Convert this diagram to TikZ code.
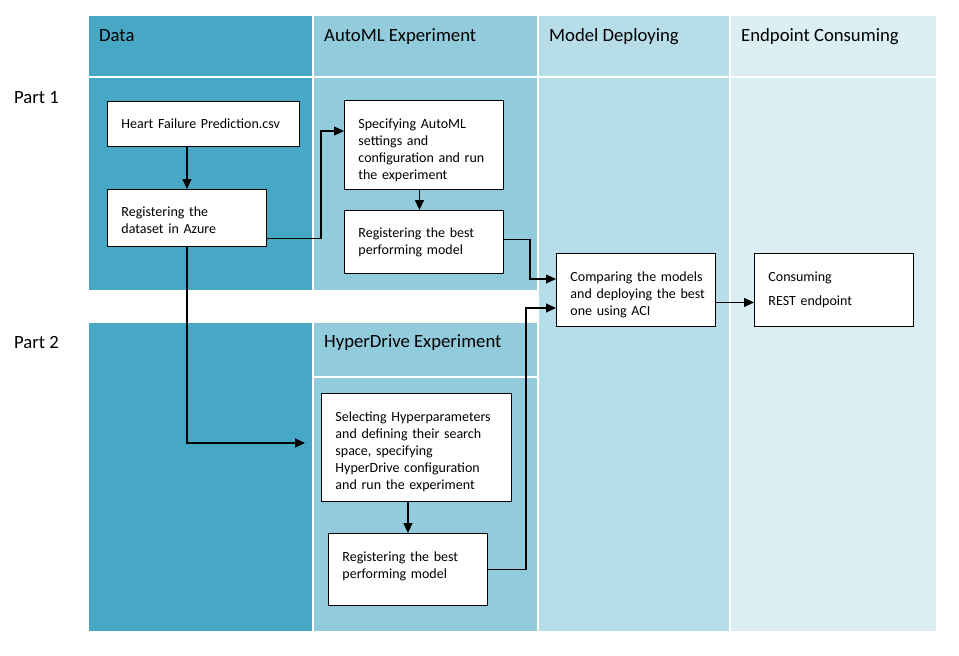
\documentclass[tikz,border=0pt]{standalone}
\usepackage{fontspec}
\setmainfont{Carlito}
\usetikzlibrary{arrows.meta}
\definecolor{cData}{HTML}{46A8C5}
\definecolor{cAuto}{HTML}{92CBDB}
\definecolor{cDep}{HTML}{B7DDE8}
\definecolor{cEnd}{HTML}{DAEEF3}
\newcommand{\boxline}[1]{\mbox{#1}}
\newcommand{\topstrut}[1]{\rule{0pt}{#1}}
\begin{document}
\begin{tikzpicture}[x=1pt,y=-1pt,
  box/.style={draw=black, line width=0.9pt, fill=white, rectangle, inner xsep=14pt, inner ysep=0pt,
    align=left, font=\fontsize{14}{17}\selectfont, anchor=north west},
  head/.style={anchor=base west, inner sep=0pt, font=\fontsize{18.7}{22}\selectfont},
  conn/.style={line width=1.2pt, -{Triangle[length=10pt,width=9pt]}},
  sep/.style={white, line width=1.2pt}]
\useasboundingbox (0,0) rectangle (959,656);
% lanes
\fill[cData] (89,16) rectangle (313,290);
\fill[cAuto] (313,16) rectangle (538,290);
\fill[cDep] (538,16) rectangle (730,631);
\fill[cEnd] (730,16) rectangle (936,631);
\fill[cData] (89,323) rectangle (313,631);
\fill[cAuto] (313,323) rectangle (538,631);
\draw[sep] (89,77) -- (936,77);
\draw[sep] (313,377) -- (538,377);
\draw[sep] (313,16) -- (313,290);
\draw[sep] (313,323) -- (313,631);
\draw[sep] (538,16) -- (538,631);
\draw[sep] (730,16) -- (730,631);
% headers
\node[head] (hData) at (99,41) {Data};
\node[head] (hAuto) at (324,41) {AutoML Experiment};
\node[head] (hDep) at (549,41) {Model Deploying};
\node[head] (hEnd) at (741,41) {Endpoint Consuming};
\node[head] (hHyp) at (324,347) {HyperDrive Experiment};
\node[head] (p1) at (14,103.5) {Part 1};
\node[head] (p2) at (14,348) {Part 2};
% boxes
\node[box, text width=164pt, minimum height=45pt] (csv) at (107,101) {\boxline{Heart Failure Prediction.csv}};
\node[box, text width=131pt, minimum height=57pt] (reg) at (107,189) {\topstrut{14pt}\boxline{Registering the}\\\boxline{dataset in Azure}};
\node[box, text width=131pt, minimum height=89pt] (spec) at (344,100) {\topstrut{20pt}\boxline{Specifying AutoML}\\\boxline{settings and}\\\boxline{configuration and run}\\\boxline{the experiment}};
\node[box, text width=131pt, minimum height=63pt] (best1) at (344,210) {\boxline{Registering the best}\\\boxline{performing model}};
\node[box, text width=131pt, minimum height=73pt] (cmp) at (556,253) {\topstrut{20pt}\boxline{Comparing the models}\\\boxline{and deploying the best}\\\boxline{one using ACI}};
\node[box, text width=131pt, minimum height=73pt] (cons) at (754,253) {\boxline{Consuming}\\[7pt]\boxline{REST endpoint}};
\node[box, text width=162pt, minimum height=108pt] (sel) at (321,393) {\topstrut{19pt}\boxline{Selecting Hyperparameters}\\\boxline{and defining their search}\\\boxline{space, specifying}\\\boxline{HyperDrive configuration}\\\boxline{and run the experiment}};
\node[box, text width=131pt, minimum height=72pt] (best2) at (328,533) {\boxline{Registering the best}\\\boxline{performing model}\\[-9pt]\mbox{}};
\coordinate (hpin) at (305,443);
% connectors
\draw[conn] (reg.north |- csv.south) -- (reg.north);
\draw[conn] ([yshift=-20.5pt]reg.east) -| (321,131) -- (spec.west |- 0,131);
\draw[conn] ([xshift=-4.5pt]spec.south) -- ([xshift=-4.5pt]best1.north);
\draw[conn] ([yshift=2.5pt]best1.east) -| (530,279) -- (cmp.west |- 0,279);
\draw[conn] (reg.south) |- (hpin);
\draw[conn] (best2.north |- sel.south) -- (best2.north);
\draw[conn] (best2.east) -| (526,308) -- (cmp.west |- 0,308);
\draw[conn] ([yshift=-12.5pt]cmp.east) -- ([yshift=-12.5pt]cons.west);
\end{tikzpicture}
\end{document}
